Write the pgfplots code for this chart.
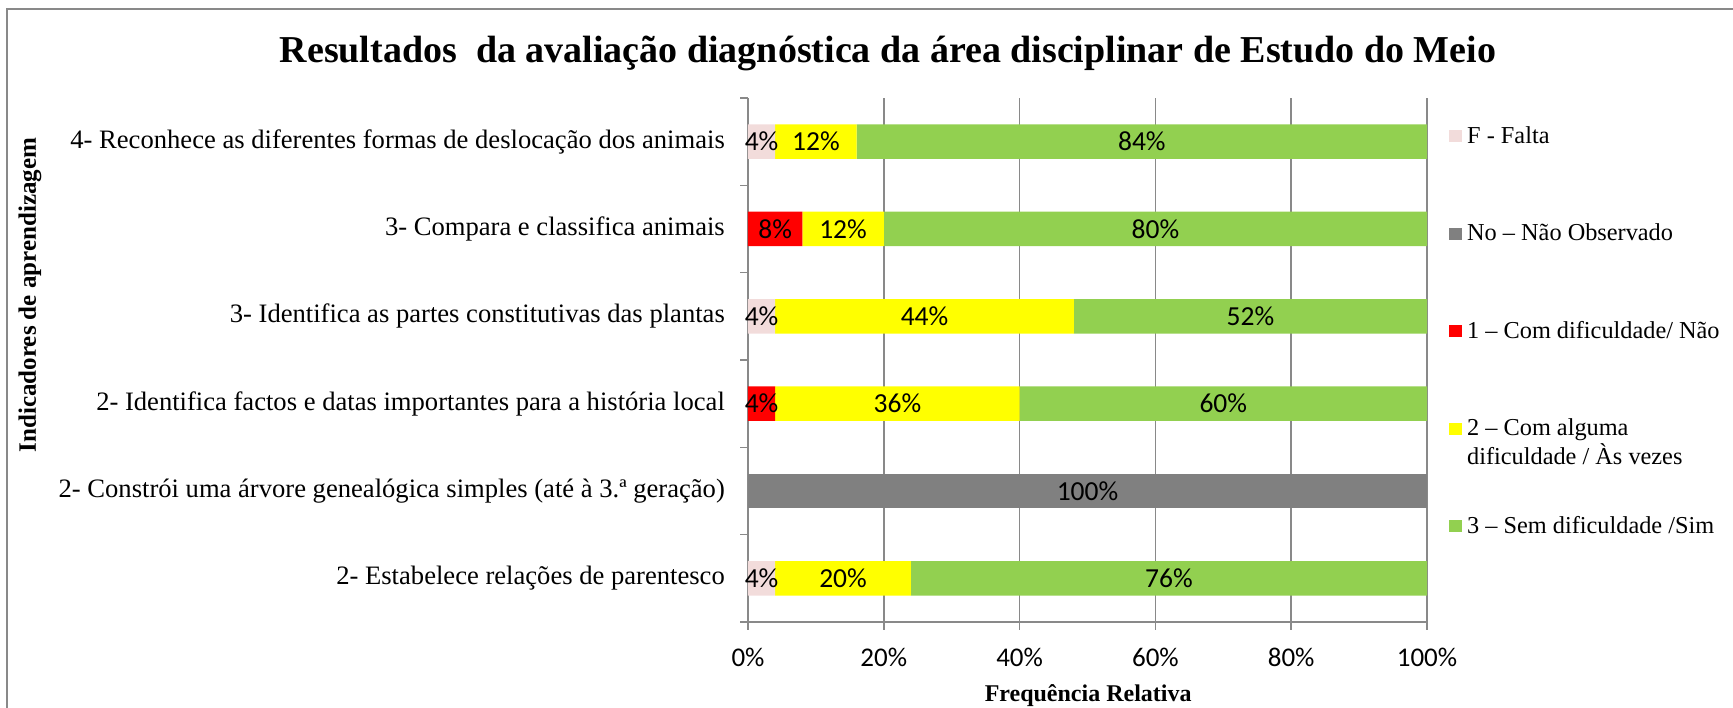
\documentclass[border=0pt]{standalone}
\usepackage{fontspec}
\setmainfont{Liberation Serif}
\newfontfamily\calibri{Carlito}
\usepackage{pgfplots}
\usepackage{pgfplotstable}
\pgfplotsset{compat=1.18}
\definecolor{cF}{HTML}{F2DCDB}
\definecolor{cNo}{HTML}{808080}
\definecolor{cOne}{HTML}{FF0000}
\definecolor{cTwo}{HTML}{FFFF00}
\definecolor{cThree}{HTML}{92D050}
\definecolor{gridc}{HTML}{898989}

\pgfplotstableread{
y F No One Two Three
0 4 0 0 20 76
1 0 100 0 0 0
2 0 0 4 36 60
3 4 0 0 44 52
4 0 0 8 12 80
5 4 0 0 12 84
}\data

\pgfplotstableread{
x y lab
2 0 4
14 0 20
62 0 76
50 1 100
2 2 4
22 2 36
70 2 60
2 3 4
26 3 44
74 3 52
4 4 8
14 4 12
60 4 80
2 5 4
10 5 12
58 5 84
}\labels

\pgfplotsset{sq legend/.style={legend image code/.code={\fill[##1] (0pt,1pt) rectangle (13pt,13pt);}}}

\begin{document}
\begin{tikzpicture}[x=1pt,y=1pt]
\useasboundingbox (0,0) rectangle (1733,708);
\draw[gridc, line width=1.5pt] (7,-10) -- (7,699) -- (1750,699);
\begin{axis}[
  at={(748pt,86pt)}, anchor=south west,
  scale only axis, width=679pt, height=524pt,
  xbar stacked, bar width=0.395,
  xmin=0, xmax=100, ymin=-0.5, ymax=5.5,
  axis lines=left, axis line style={-, gridc, line width=1.5pt},
  tick align=outside, major tick length=8pt,
  tick style={gridc, line width=1.5pt},
  xmajorgrids, grid style={gridc, line width=1.5pt},
  xtick={0,20,...,100},
  /pgf/number format/assume math mode=true,
  xticklabel={\pgfmathprintnumber{\tick}\%},
  xticklabel style={font=\calibri\fontsize{27}{30}\selectfont, anchor=base, inner sep=0pt, yshift=-37pt},
  ytick={-0.5,0.5,...,5.5}, yticklabels={},
  extra y ticks={0,1,2,3,4,5},
  extra y tick labels={{2- Estabelece relações de parentesco},{2- Constrói uma árvore genealógica simples (até à 3.ª geração)},{2- Identifica factos e datas importantes para a história local},{3- Identifica as partes constitutivas das plantas},{3- Compara e classifica animais},{4- Reconhece as diferentes formas de deslocação dos animais}},
  extra y tick style={major tick length=0pt, yticklabel style={font=\fontsize{26.6}{30}\selectfont, anchor=east, inner sep=0pt, xshift=-23pt}},
  xlabel={Frequência Relativa},
  xlabel style={at={(axis description cs:0.501,0)}, anchor=base, yshift=-80pt, font=\bfseries\fontsize{24}{28}\selectfont},
  ylabel={Indicadores de aprendizagem},
  ylabel style={at={(axis description cs:-1.0575,0.624)}, anchor=center, font=\bfseries\fontsize{25}{30}\selectfont},
  legend cell align=left,
  legend style={at={(axis description cs:1.0324,0.9485)}, anchor=north west, draw=none, fill=none, inner sep=0pt, row sep=73.5pt, column sep=5pt, font=\fontsize{24.3}{26.7}\selectfont, nodes={inner sep=0pt, text height=18pt, text depth=6pt, anchor=base west}},
  clip=false,
]
\addplot[fill=cF, draw=none, sq legend] table[x=F, y=y]{\data};
\addlegendentry{F - Falta}
\addplot[fill=cNo, draw=none, sq legend] table[x=No, y=y]{\data};
\addlegendentry{No – Não Observado}
\addplot[fill=cOne, draw=none, sq legend] table[x=One, y=y]{\data};
\addlegendentry{1 – Com dificuldade/ Não}
\addplot[fill=cTwo, draw=none, sq legend] table[x=Two, y=y]{\data};
\addlegendentry{\raisebox{0pt}[\height][0pt]{\begin{tabular}[t]{@{}l@{}}2 – Com alguma\\dificuldade / Às vezes\end{tabular}}}
\addplot[fill=cThree, draw=none, sq legend] table[x=Three, y=y]{\data};
\addlegendentry{3 – Sem dificuldade /Sim}
\end{axis}
\begin{axis}[
  at={(748pt,86pt)}, anchor=south west,
  scale only axis, width=679pt, height=524pt,
  xmin=0, xmax=100, ymin=-0.5, ymax=5.5,
  hide axis, clip=false,
]
\addplot[only marks, mark=none, point meta=explicit symbolic,
  nodes near coords={\pgfplotspointmeta\%},
  nodes near coords style={anchor=center, inner sep=0pt, font=\calibri\fontsize{27.5}{30}\selectfont}]
  table[x=x, y=y, meta=lab]{\labels};
\end{axis}
\node[anchor=base, font=\bfseries\fontsize{38}{42}\selectfont] at (888,645) {Resultados\ \ da avaliação diagnóstica da área disciplinar de Estudo do Meio};
\end{tikzpicture}
\end{document}
